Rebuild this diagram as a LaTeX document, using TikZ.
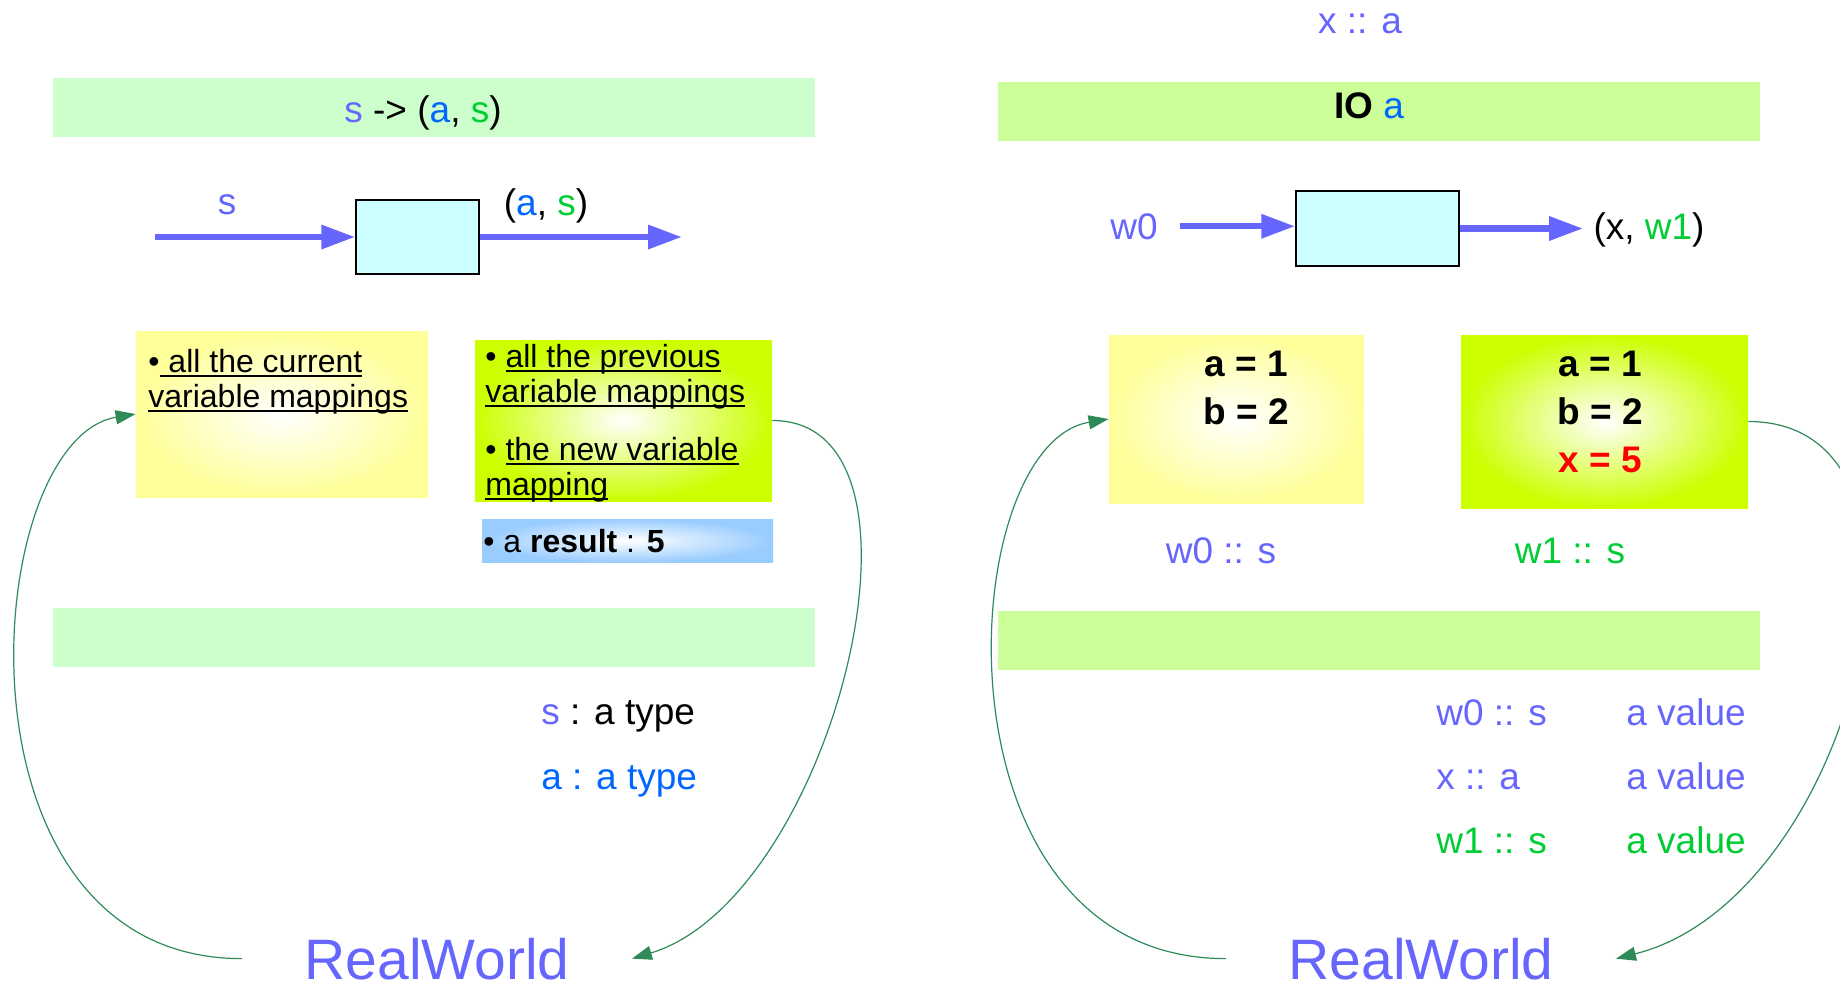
\documentclass[tikz,border=0pt]{standalone}
\usepackage{fontspec}
\setmainfont{Liberation Sans}
\usetikzlibrary{arrows.meta}
\definecolor{wviolet}{RGB}{102,102,255}
\definecolor{wblue}{RGB}{0,102,255}
\definecolor{wgreen}{RGB}{0,204,51}
\definecolor{mintband}{RGB}{204,255,204}
\definecolor{limeband}{RGB}{204,255,153}
\definecolor{cyanbox}{RGB}{204,255,255}
\definecolor{paleyellow}{RGB}{255,255,153}
\definecolor{brightlime}{RGB}{204,255,0}
\definecolor{skyblue}{RGB}{153,204,255}
\definecolor{seagreen}{RGB}{46,139,87}
\newsavebox\ulbox
\newcommand\mapline[1]{\sbox\ulbox{#1}\rlap{\rule[-2.5pt]{\wd\ulbox}{0.8pt}}\usebox\ulbox}
\begin{document}
\begin{tikzpicture}[x=0.5pt,y=-0.5pt,
    txt/.style={inner sep=0pt,font=\fontsize{18.5}{22}\selectfont},
    small/.style={inner sep=0pt,align=left,font=\fontsize{16}{17.5}\selectfont},
    band/.style={fill=#1,inner sep=0pt,minimum width=381pt,minimum height=29.5pt},
    fbox/.style={draw=black,line width=0.75pt,fill=cyanbox,inner sep=0pt},
    mapbox/.style={shading=radial,inner color=white,outer color=#1,inner sep=0pt},
    flow/.style={draw=wviolet,line width=3.2pt,-{Triangle[length=17pt,width=11.5pt]}},
    back/.style={draw=seagreen,line width=0.6pt,-{Triangle[length=10pt,width=7pt]}},
    world/.style={inner ysep=0pt,inner xsep=31pt,text=wviolet,font=\fontsize{28.5}{34}\selectfont}]
  \useasboundingbox (0,0) rectangle (1840,987);

  \node[band=mintband] (sig) at (434,107.5) {};
  \node[txt,anchor=base] (sigtext) at (423,122)
    {\textcolor{wviolet}{s} -> (\textcolor{wblue}{a}, \textcolor{wgreen}{s})};
  \node[fbox,minimum width=61.5pt,minimum height=37pt] (f1) at (417.5,237) {};
  \coordinate (in1) at (155,237);
  \coordinate (out1) at (682,237);
  \draw[flow] (in1) -- (f1);
  \draw[flow] (f1) -- (out1);
  \node[txt,anchor=base,text=wviolet] (s1) at (227,214) {s};
  \node[txt,anchor=base] (as1) at (546,215) {(\textcolor{wblue}{a}, \textcolor{wgreen}{s})};

  \node[mapbox=paleyellow,minimum width=146pt,minimum height=83pt] (cur) at (282,414) {};
  \node[small,anchor=base west] (curtext) at (148,407)
    {\textbullet\mapline{\ all the current}\\\mapline{variable mappings}};
  \node[mapbox=brightlime,minimum width=148.5pt,minimum height=80.5pt] (nxt) at (623.5,420.5) {};
  \node[small,anchor=base west] (nxttext) at (485,495)
    {\textbullet{} \mapline{all the previous}\\\mapline{variable mappings}\\[11.5pt]
     \textbullet{} \mapline{the new variable}\\\mapline{mapping}};
  \node[mapbox=skyblue,minimum width=145.5pt,minimum height=21.5pt] (res) at (627.5,540.5) {};
  \node[small,anchor=base west] (restext) at (483,552) {\textbullet{} a \textbf{result} : \textbf{5}};

  \node[band=mintband] (sigb) at (434,637.5) {};
  \node[txt,anchor=base west] (stype) at (541,724) {\textcolor{wviolet}{s} : a type};
  \node[txt,anchor=base west,text=wblue] (atype) at (541,789) {a : a type};

  \node[world,anchor=base] (rw1) at (437,979) {RealWorld};
  \draw[back] (rw1.west) .. controls +(-300,0) and +(-156,26) .. (cur.west);
  \draw[back] (nxt.east) .. controls +(180,0) and +(200,-60) .. (rw1.east);

  \node[txt,anchor=base,text=wviolet] (xa) at (1360,33) {x :: a};
  \node[band=limeband] (io) at (1379,111) {};
  \node[txt,anchor=base] (iotext) at (1369,118) {\textbf{IO} \textcolor{wblue}{a}};
  \node[fbox,minimum width=81.5pt,minimum height=37.5pt] (f2) at (1377.5,228.5) {};
  \node[txt,anchor=base,text=wviolet,inner xsep=11pt] (w0) at (1134,239) {w0};
  \node[txt,anchor=base,inner xsep=5pt] (xw1) at (1649,239) {(x, \textcolor{wgreen}{w1})};
  \draw[flow] (w0.east) -- (w0.east -| f2.west);
  \draw[flow] (f2.east) -- (f2.east -| xw1.west);

  \node[mapbox=paleyellow,minimum width=127.5pt,minimum height=84pt] (w0box) at (1236.5,419) {};
  \node[txt,anchor=base,align=center,font=\fontsize{18.5}{24}\selectfont\bfseries] (w0map)
    at (1246,424) {a = 1\\b = 2};
  \node[mapbox=brightlime,minimum width=143.5pt,minimum height=86.5pt] (w1box) at (1604.5,421.5) {};
  \node[txt,anchor=base,align=center,font=\fontsize{18.5}{24}\selectfont\bfseries] (w1map)
    at (1600,472) {a = 1\\b = 2\\\textcolor{red}{x = 5}};
  \node[txt,anchor=base,text=wviolet] (w0s) at (1221,563) {w0 :: s};
  \node[txt,anchor=base,text=wgreen] (w1s) at (1570,563) {w1 :: s};

  \node[band=limeband] (iob) at (1379,640.5) {};
  \node[txt,anchor=base west,text=wviolet] (t1) at (1436,725) {w0 :: s};
  \node[txt,anchor=base west,text=wviolet] (t2) at (1436,789) {x :: a};
  \node[txt,anchor=base west,text=wgreen] (t3) at (1436,853) {w1 :: s};
  \node[txt,anchor=base west,text=wviolet] (v1) at (1626,725) {a value};
  \node[txt,anchor=base west,text=wviolet] (v2) at (1626,789) {a value};
  \node[txt,anchor=base west,text=wgreen] (v3) at (1626,853) {a value};

  \node[world,anchor=base] (rw2) at (1421,979) {RealWorld};
  \draw[back] (rw2.west) .. controls +(-300,0) and +(-156,26) .. (w0box.west);
  \draw[back] (w1box.east) .. controls +(220,0) and +(240,-60) .. (rw2.east);
\end{tikzpicture}
\end{document}
